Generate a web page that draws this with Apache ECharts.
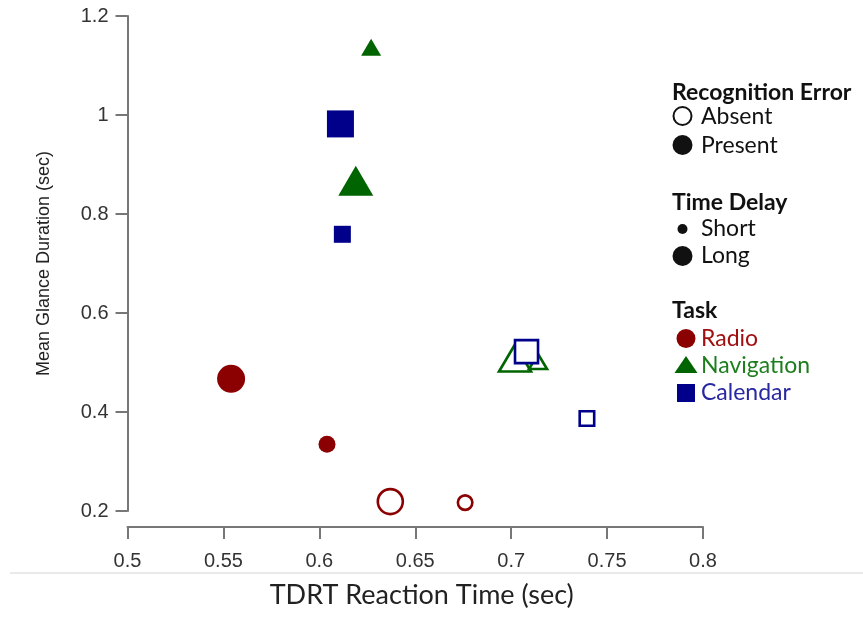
<!DOCTYPE html>
<html>
<head>
<meta charset="utf-8">
<script src="https://cdn.jsdelivr.net/npm/echarts@6/dist/echarts.min.js"></script>
<style>
html,body{margin:0;padding:0;background:#fff;}
#chart{width:863px;height:619px;}
</style>
</head>
<body>
<div id="chart"></div>
<script>
// ---- data ----
const xTicks = [0.5, 0.55, 0.6, 0.65, 0.7, 0.75, 0.8];
const yTicks = [0.2, 0.4, 0.6, 0.8, 1, 1.2];
const tasks = ['Radio', 'Navigation', 'Calendar'];
const pointTask  = ['Radio','Radio','Radio','Radio','Navigation','Navigation','Navigation','Navigation','Calendar','Calendar','Calendar','Calendar'];
const pointError = ['Present','Present','Absent','Absent','Present','Present','Absent','Absent','Present','Present','Absent','Absent'];
const pointDelay = ['Long','Short','Long','Short','Long','Short','Long','Short','Long','Short','Long','Short'];
const pointX = [0.554, 0.604, 0.637, 0.676, 0.619, 0.627, 0.702, 0.714, 0.611, 0.612, 0.708, 0.7395];
const pointY = [0.467, 0.335, 0.219, 0.217, 0.867, 1.137, 0.509, 0.502, 0.982, 0.759, 0.522, 0.387];

// ---- styles ----
const taskColor = {Radio: '#8b0000', Navigation: '#006400', Calendar: '#00008b'};
const taskTextColor = {Radio: '#a01010', Navigation: '#1e7e1e', Calendar: '#2828a0'};
const taskSymbol = {Radio: 'circle', Navigation: 'triangle', Calendar: 'rect'};

function sizeFor(task, err, delay) {
  const open = err === 'Absent';
  if (task === 'Radio') {
    if (delay === 'Long') return open ? 25 : 28;
    return open ? 14.5 : 17;
  }
  if (task === 'Navigation') {
    if (delay === 'Long') return open ? [32, 27] : [35, 30];
    return open ? [18, 15] : [20, 17];
  }
  if (delay === 'Long') return open ? 23 : 27;
  return open ? 14.5 : 17;
}

const series = tasks.map(function (task) {
  const data = [];
  pointTask.forEach(function (t, i) {
    if (t !== task) return;
    const open = pointError[i] === 'Absent';
    const c = taskColor[task];
    data.push({
      value: [pointX[i], pointY[i]],
      symbolSize: sizeFor(task, pointError[i], pointDelay[i]),
      itemStyle: open
        ? {color: task === 'Navigation' ? 'rgba(0,0,0,0)' : '#ffffff', borderColor: c, borderWidth: 2.6, opacity: 1}
        : {color: c, borderWidth: 0, opacity: 1}
    });
  });
  return {
    name: task,
    type: 'scatter',
    symbol: taskSymbol[task],
    data: data,
    emphasis: {disabled: true},
    z: 2
  };
});

const fontAx = '"Liberation Sans", Arial, sans-serif';
const fontLg = 'Lato, "Open Sans", sans-serif';

const legendGraphics = [];
function lgText(x, y, text, color, bold) {
  legendGraphics.push({type: 'text', x: x, y: y,
    style: {text: text, fill: color, font: (bold ? 'bold ' : '') + '23px ' + fontLg, verticalAlign: 'middle', align: 'left'}});
}
lgText(672, 93, 'Recognition Error', '#111', true);
legendGraphics.push({type: 'circle', shape: {cx: 682.5, cy: 116, r: 9}, style: {fill: '#fff', stroke: '#111', lineWidth: 2}});
lgText(701, 117, 'Absent', '#111', false);
legendGraphics.push({type: 'circle', shape: {cx: 682.5, cy: 145, r: 10}, style: {fill: '#111'}});
lgText(701, 146, 'Present', '#111', false);
lgText(672, 203, 'Time Delay', '#111', true);
legendGraphics.push({type: 'circle', shape: {cx: 682.5, cy: 229, r: 5}, style: {fill: '#111'}});
lgText(701, 229, 'Short', '#111', false);
legendGraphics.push({type: 'circle', shape: {cx: 682.5, cy: 256, r: 10}, style: {fill: '#111'}});
lgText(701, 256, 'Long', '#111', false);
lgText(672, 311, 'Task', '#111', true);
legendGraphics.push({type: 'circle', shape: {cx: 686, cy: 338.5, r: 9.5}, style: {fill: taskColor.Radio}});
lgText(701, 339, 'Radio', taskTextColor.Radio, false);
legendGraphics.push({type: 'polygon', shape: {points: [[686, 356], [697.5, 373], [674.5, 373]]}, style: {fill: taskColor.Navigation}});
lgText(701, 366, 'Navigation', taskTextColor.Navigation, false);
legendGraphics.push({type: 'rect', shape: {x: 677, y: 384, width: 18, height: 18}, style: {fill: taskColor.Calendar}});
lgText(701, 393, 'Calendar', taskTextColor.Calendar, false);
legendGraphics.push({type: 'line', shape: {x1: 10, y1: 573, x2: 863, y2: 573}, style: {stroke: '#d4d4d4', lineWidth: 1}});

const chart = echarts.init(document.getElementById('chart'), null, {renderer: 'canvas'});
chart.setOption({
  backgroundColor: '#fff',
  animation: false,
  grid: {left: 127.5, right: 160, top: 16, bottom: 108, containLabel: false},
  xAxis: {
    type: 'value',
    min: xTicks[0], max: xTicks[xTicks.length - 1], interval: 0.05,
    offset: 16,
    splitLine: {show: false},
    axisLine: {show: true, lineStyle: {color: '#777', width: 2}},
    axisTick: {show: true, length: 12, lineStyle: {color: '#777', width: 2}},
    axisLabel: {margin: 24, color: '#333', fontSize: 20, fontFamily: fontAx,
      formatter: function (v) { return String(parseFloat(v.toFixed(2))); }},
    name: 'TDRT Reaction Time (sec)',
    nameLocation: 'middle',
    nameGap: 55,
    nameTextStyle: {fontSize: 27, fontFamily: fontLg, color: '#222', padding: [0, 0, 0, 13]}
  },
  yAxis: {
    type: 'value',
    min: yTicks[0], max: yTicks[yTicks.length - 1], interval: 0.2,
    splitLine: {show: false},
    axisLine: {show: true, lineStyle: {color: '#777', width: 2}},
    axisTick: {show: true, length: 12, lineStyle: {color: '#777', width: 2}},
    axisLabel: {margin: 19, color: '#333', fontSize: 20, fontFamily: fontAx,
      formatter: function (v) { return String(parseFloat(v.toFixed(2))); }},
    name: 'Mean Glance Duration (sec)',
    nameLocation: 'middle',
    nameGap: 74,
    nameTextStyle: {fontSize: 18, fontFamily: fontAx, color: '#222'}
  },
  graphic: legendGraphics,
  series: series
});
</script>
</body>
</html>
